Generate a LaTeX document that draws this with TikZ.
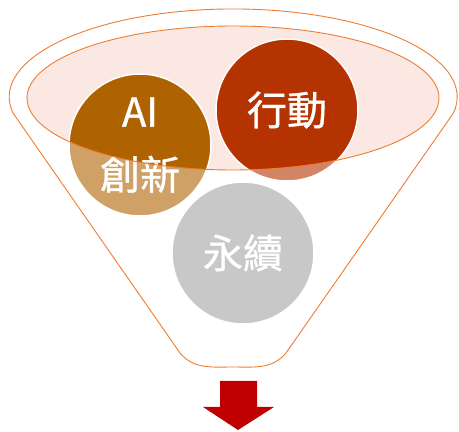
\documentclass[tikz,border=0pt]{standalone}
\usepackage{fontspec}
\setmainfont{Noto Sans CJK TC}
\newfontfamily\ballfont{Noto Sans CJK TC}[FakeBold=0.9]
\usetikzlibrary{positioning}
\definecolor{funnelorange}{HTML}{ED7D31}
\definecolor{mouthpink}{HTML}{FBE8E3}
\definecolor{aibrown}{HTML}{AF6300}
\definecolor{actred}{HTML}{B53300}
\definecolor{ecogray}{HTML}{A4A4A4}
\definecolor{arrowred}{HTML}{C00000}

\begin{document}
\begin{tikzpicture}[x=1pt, y=1pt, font=\ballfont\fontsize{40}{63}\selectfont]
  \tikzstyle{ballnode}=[circle, draw=white, line width=1.5pt, minimum size=142pt, inner sep=0pt, text=white, align=center]
  \tikzstyle{rimline}=[draw=funnelorange, line width=0.9pt]
  \useasboundingbox (0,0) rectangle (459,432);

  % funnel mouth
  \fill[mouthpink] (233,334) ellipse [x radius=206pt, y radius=72pt];

  % balls in the funnel
  \node[ballnode, fill=aibrown] (ai) at (140,287) {AI\\創新};
  \node[ballnode, fill=actred] (act) at (287,322) {行動};
  \node[ballnode, fill=ecogray] (eco) at (243,179) {永續};

  % funnel body (lightens what is below the mouth)
  \fill[white, fill opacity=0.4, even odd rule]
    (13,319) arc [start angle=190.5, end angle=-10.5, x radius=224pt, y radius=88pt]
    -- (286,79) to[out=-130, in=0] (233,65) to[out=180, in=-50] (180,79) -- cycle
    (233,334) ellipse [x radius=206pt, y radius=72pt];

  % outlines
  \draw[rimline] (13,319) arc [start angle=190.5, end angle=-10.5, x radius=224pt, y radius=88pt]
    -- (286,79) to[out=-130, in=0] (233,65) to[out=180, in=-50] (180,79) -- cycle;
  \draw[rimline] (233,334) ellipse [x radius=206pt, y radius=72pt];

  % output arrow
  \fill[arrowred] (220,51) -- (257,51) -- (257,25) -- (274,25) -- (238,2) -- (203,25) -- (220,25) -- cycle;
\end{tikzpicture}
\end{document}
